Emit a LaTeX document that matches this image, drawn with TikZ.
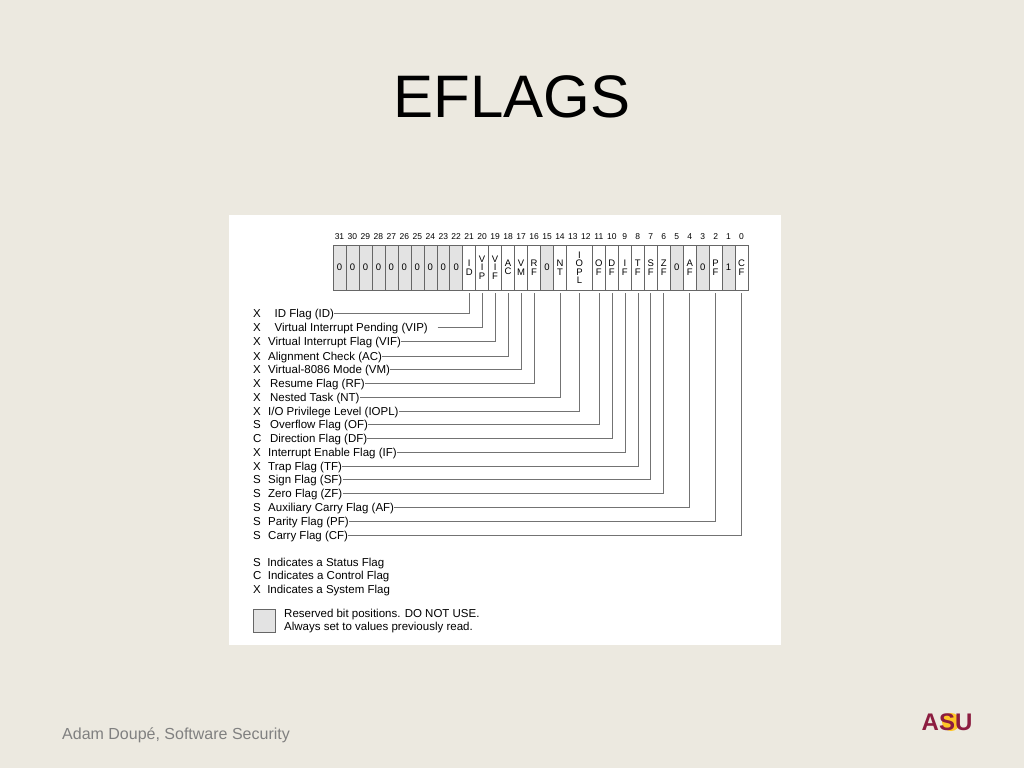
\documentclass[tikz,border=0pt]{standalone}
\usepackage{fontspec}
\setmainfont{Liberation Sans}
\begin{document}
\begin{tikzpicture}[x=1pt,y=-1pt,
 lab/.style={anchor=base west,inner sep=0pt,font=\fontsize{11.5}{11.5}\selectfont},
 num/.style={inner sep=0pt,font=\fontsize{8.5}{8.5}\selectfont},
 cell/.style={inner sep=0pt,font=\fontsize{9.5}{8.5}\selectfont},
 lead/.style={draw=black!55,line width=0.6pt}]
\definecolor{bg}{HTML}{ECE9E0}
\definecolor{rsv}{HTML}{E3E3E3}
\definecolor{maroon}{HTML}{8C1D40}
\definecolor{gold}{HTML}{FFC627}
\fill[bg] (0,0) rectangle (1024,768);
\useasboundingbox (0,0) rectangle (1024,768);
\node[font=\fontsize{60}{60}\selectfont] (title) at (512,97) {EFLAGS};
\node[anchor=west,inner sep=0pt,text=black!50,font=\fontsize{16}{16}\selectfont] (foot) at (62,735) {Adam Doupé, Software Security};
\fill[white] (229,215) rectangle (781,645);
\def\w{12.97}
\foreach \i/\t/\r in {31/0/1,30/0/1,29/0/1,28/0/1,27/0/1,26/0/1,25/0/1,24/0/1,23/0/1,22/0/1,
 21/{I\\D}/0,20/{V\\I\\P}/0,19/{V\\I\\F}/0,18/{A\\C}/0,17/{V\\M}/0,16/{R\\F}/0,15/0/1,14/{N\\T}/0,
 11/{O\\F}/0,10/{D\\F}/0,9/{I\\F}/0,8/{T\\F}/0,7/{S\\F}/0,6/{Z\\F}/0,5/0/1,4/{A\\F}/0,3/0/1,2/{P\\F}/0,1/1/1,0/{C\\F}/0}{
  \pgfmathsetmacro\xa{333+(31-\i)*\w}
  \ifnum\r=1 \fill[rsv] (\xa,245) rectangle ++(\w,45);\fi
  \draw[black!60,line width=0.5pt] (\xa,245) rectangle ++(\w,45);
  \node[cell,align=center] (c\i) at (\xa+\w/2,267.5) {\t};
  \node[num] (n\i) at (\xa+\w/2,237) {\i};
}
\pgfmathsetmacro\xa{333+18*\w}
\draw[black!60,line width=0.5pt] (\xa,245) rectangle ++(2*\w,45);
\node[cell,align=center] (c12) at (\xa+\w,267.5) {I\\O\\P\\L};
\node[num] (n13) at (\xa+\w/2,237) {13};
\node[num] (n12) at (\xa+1.5*\w,237) {12};
\foreach \k/\b/\y/\s/\t in {
 id/21/313/X/{\ \ ID Flag (ID)},
 vip/20/327/X/{\ \ Virtual Interrupt Pending (VIP)\ \ \ \ },
 vif/19/341/X/{Virtual Interrupt Flag (VIF)},
 ac/18/356/X/{Alignment Check (AC)},
 vm/17/369/X/{Virtual-8086 Mode (VM)},
 rf/16/383/X/{\,Resume Flag (RF)},
 nt/14/397/X/{\,Nested Task (NT)},
 iopl/12.5/411/X/{I/O Privilege Level (IOPL)},
 of/11/424/S/{\,Overflow Flag (OF)},
 df/10/438/C/{\,Direction Flag (DF)},
 if/9/452/X/{Interrupt Enable Flag (IF)},
 tf/8/466/X/{Trap Flag (TF)},
 sf/7/479/S/{Sign Flag (SF)},
 zf/6/493/S/{Zero Flag (ZF)},
 af/4/507/S/{Auxiliary Carry Flag (AF)},
 pf/2/521/S/{Parity Flag (PF)},
 cf/0/535/S/{Carry Flag (CF)}}{
  \node[lab] (s\k) at (253,\y+4) {\s};
  \node[lab] (l\k) at (268,\y+4) {\t};
  \pgfmathsetmacro\bx{333+(31-\b)*\w+\w/2}
  \draw[lead] (l\k.east |- 0,\y) -- (\bx,\y) -- (\bx,293);
}
\node[lab] (ls) at (253,566) {S\ \ Indicates a Status Flag};
\node[lab] (lc) at (253,579) {C\ \ Indicates a Control Flag};
\node[lab] (lx) at (253,593) {X\ \ Indicates a System Flag};
\draw[black!60,fill=rsv] (253,609) rectangle (275,632);
\node[anchor=west,inner sep=0pt,font=\fontsize{11.5}{13.5}\selectfont,align=left] (lr) at (284,621) {Reserved bit positions. DO NOT USE.\\Always set to values previously read.};
\fill[gold] (951,722) circle (9);
\node[text=maroon,font=\bfseries\fontsize{24}{24}\selectfont,inner sep=0pt] (asu) at (947,722) {ASU};
\end{tikzpicture}
\end{document}
